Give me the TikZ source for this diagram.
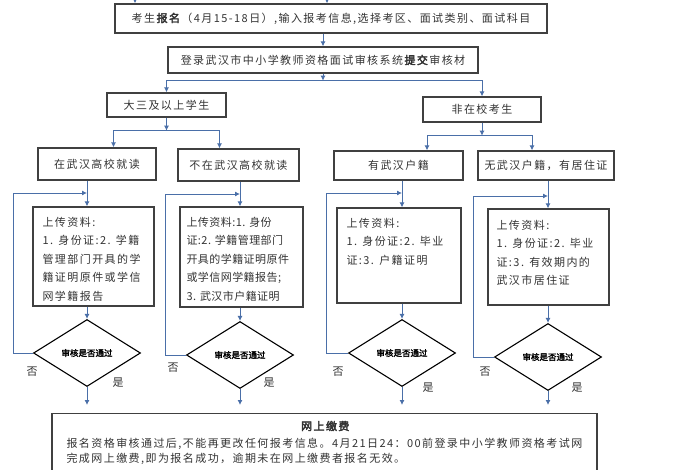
\documentclass[tikz,border=0pt]{standalone}
\usepackage{fontspec}
\setmainfont{Noto Sans CJK SC}[LetterSpace=13.0, AutoFakeBold=3]
\newfontfamily\narrowfont{Noto Sans CJK SC}[LetterSpace=4.0]
\newfontfamily\diafont{Noto Sans CJK SC}[FakeBold=2]
\newfontfamily\plainfont{Noto Sans CJK SC}
\usepackage{tikz}
\usetikzlibrary{calc, arrows.meta, shapes.geometric}
\definecolor{linkblue}{HTML}{4A6FA8}
\definecolor{boxgray}{HTML}{404040}
\definecolor{inkgray}{HTML}{333333}

\begin{document}
\begin{tikzpicture}[x=1pt, y=-1pt,
    box/.style={draw=boxgray, line width=1.3pt, inner sep=0pt, text=inkgray,
        font=\fontsize{11}{13}\selectfont},
    uptext/.style={anchor=north west, inner sep=0pt, align=left, text=inkgray,
        font=\fontsize{11}{18.5}\selectfont},
    paytext/.style={anchor=north west, inner sep=0pt, align=left, text=inkgray,
        font=\fontsize{11}{15.5}\selectfont},
    check/.style={diamond, draw=black, line width=1.1pt, inner sep=0pt,
        minimum width=107pt, minimum height=67pt, font=\diafont\fontsize{8.5}{8.5}\selectfont},
    yesno/.style={inner sep=0pt, text=inkgray, font=\plainfont\fontsize{11}{11}\selectfont},
    link/.style={draw=linkblue, line width=0.9pt},
    arr/.style={link, -{Latex[length=5pt, width=5pt]}}
]
    \useasboundingbox (0,0) rectangle (700,470);
    \fill[white] (0,0) rectangle (700,470);
    \clip (0,0) rectangle (700,470);

    \coordinate (in1) at (135,-5);
    \coordinate (in2) at (327,-5);
    \coordinate (back1) at (13,193);
    \coordinate (back2) at (165,194);
    \coordinate (back3) at (326,193);
    \coordinate (back4) at (473,196);

    \node[box, minimum width=432pt, minimum height=29pt] (baoming) at (331,18.5)
        {考生\textbf{报名}（4月15-18日）,输入报考信息,选择考区、面试类别、面试科目};
    \node[box, minimum width=310pt, minimum height=26pt] (denglu) at (323,60)
        {登录武汉市中小学教师资格面试审核系统\textbf{提交}审核材};

    \node[box, minimum width=119pt, minimum height=24pt] (dasan) at (166.5,105) {大三及以上学生};
    \node[box, minimum width=118pt, minimum height=25pt] (feizai) at (482,109.5) {非在校考生};

    \node[box, minimum width=118pt, minimum height=32pt] (zaiwh) at (97,164) {在武汉高校就读};
    \node[box, minimum width=121pt, minimum height=32pt] (buzai) at (238.5,165) {不在武汉高校就读};
    \node[box, minimum width=129pt, minimum height=29pt] (youhj) at (398.5,165.5) {有武汉户籍};
    \node[box, minimum width=136pt, minimum height=29pt] (wuhj) at (546,165.5) {无武汉户籍，有居住证};

    \node[box, minimum width=121pt, minimum height=99pt] (up1) at (93.5,256.5) {};
    \node[box, minimum width=123pt, minimum height=100pt] (up2) at (241.5,257) {};
    \node[box, minimum width=124pt, minimum height=95pt] (up3) at (399,255.5) {};
    \node[box, minimum width=121pt, minimum height=96pt] (up4) at (548.5,257) {};

    \node[uptext] (up1text) at ($(up1.north west)+(10,10.5)$)
        {上传资料:\\1. 身份证:2. 学籍\\管理部门开具的学\\籍证明原件或学信\\网学籍报告};
    \node[uptext, font=\narrowfont\fontsize{11}{18.5}\selectfont] (up2text) at ($(up2.north west)+(7,10.5)$)
        {上传资料:1. 身份\\证:2. 学籍管理部门\\开具的学籍证明原件\\或学信网学籍报告;\\3. 武汉市户籍证明};
    \node[uptext] (up3text) at ($(up3.north west)+(10,10.5)$)
        {上传资料:\\1. 身份证:2. 毕业\\证:3. 户籍证明};
    \node[uptext] (up4text) at ($(up4.north west)+(9,11.5)$)
        {上传资料:\\1. 身份证:2. 毕业\\证:3. 有效期内的\\武汉市居住证};

    \node[check] (d1) at (87,353) {审核是否通过};
    \node[check] (d2) at (240,355) {审核是否通过};
    \node[check] (d3) at (402,353) {审核是否通过};
    \node[check] (d4) at (548,357) {审核是否通过};

    \node[yesno] (no1) at (32,372) {否};
    \node[yesno] (no2) at (173,368) {否};
    \node[yesno] (no3) at (338,372) {否};
    \node[yesno] (no4) at (485,372) {否};
    \node[yesno] (yes1) at (118,383) {是};
    \node[yesno] (yes2) at (269,383) {是};
    \node[yesno] (yes3) at (428,388) {是};
    \node[yesno] (yes4) at (577,388) {是};

    \node[box, anchor=north, minimum width=545pt, minimum height=85pt] (pay) at (324.5,413) {};
    \node[inner sep=0pt, text=inkgray, font=\fontsize{11}{13}\selectfont] (paytitle) at (326,426)
        {\textbf{网上缴费}};
    \node[paytext] (paybody) at ($(pay.north west)+(15,24.5)$)
        {报名资格审核通过后,不能再更改任何报考信息。4月21日24：00前登录中小学教师资格考试网\\
         完成网上缴费,即为报名成功，逾期未在网上缴费者报名无效。};

    \draw[arr] (in1) -- (in1 |- baoming.north);
    \draw[arr] (in2) -- (in2 |- baoming.north);
    \draw[arr] (baoming.south -| denglu.north) -- (denglu.north);

    \coordinate (split1) at ($(denglu.south)+(0,7)$);
    \draw[arr] (denglu.south) -- (split1);
    \draw[arr] (split1) -| (dasan.north);
    \draw[arr] (split1) -| (feizai.north);

    \coordinate (split2) at ($(dasan.south)+(0,13)$);
    \coordinate (split2L) at ($(split2)+(-53,0)$);
    \coordinate (split2R) at ($(split2)+(53,0)$);
    \draw[arr] (dasan.south) -- (split2);
    \draw[arr] (split2) -- (split2L) -- (split2L |- zaiwh.north);
    \draw[arr] (split2) -- (split2R) -- (split2R |- buzai.north);

    \coordinate (split3) at ($(feizai.south)+(0,13)$);
    \coordinate (split3L) at ($(split3)+(-55,0)$);
    \coordinate (split3R) at ($(split3)+(50,0)$);
    \draw[arr] (feizai.south) -- (split3);
    \draw[arr] (split3) -- (split3L) -- (split3L |- youhj.north);
    \draw[arr] (split3) -- (split3R) -- (split3R |- wuhj.north);

    \draw[arr] (zaiwh.south -| d1.north) -- (up1.north -| d1.north);
    \draw[arr] (buzai.south -| d2.north) -- (up2.north -| d2.north);
    \draw[arr] (youhj.south -| d3.north) -- (up3.north -| d3.north);
    \draw[arr] (wuhj.south -| d4.north) -- (up4.north -| d4.north);

    \draw[arr] (up1.south -| d1.north) -- (d1.north);
    \draw[arr] (up2.south -| d2.north) -- (d2.north);
    \draw[arr] (up3.south -| d3.north) -- (d3.north);
    \draw[arr] (up4.south -| d4.north) -- (d4.north);

    \draw[arr] (d1.west) -| (back1) -- (back1 -| d1.north);
    \draw[arr] (d2.west) -| (back2) -- (back2 -| d2.north);
    \draw[arr] (d3.west) -| (back3) -- (back3 -| d3.north);
    \draw[arr] (d4.west) -| (back4) -- (back4 -| d4.north);

    \draw[arr, shorten >=8pt] (d1.south) -- (d1.south |- pay.north);
    \draw[arr, shorten >=8pt] (d2.south) -- (d2.south |- pay.north);
    \draw[arr, shorten >=8pt] (d3.south) -- (d3.south |- pay.north);
    \draw[arr, shorten >=8pt] (d4.south) -- (d4.south |- pay.north);
\end{tikzpicture}
\end{document}
